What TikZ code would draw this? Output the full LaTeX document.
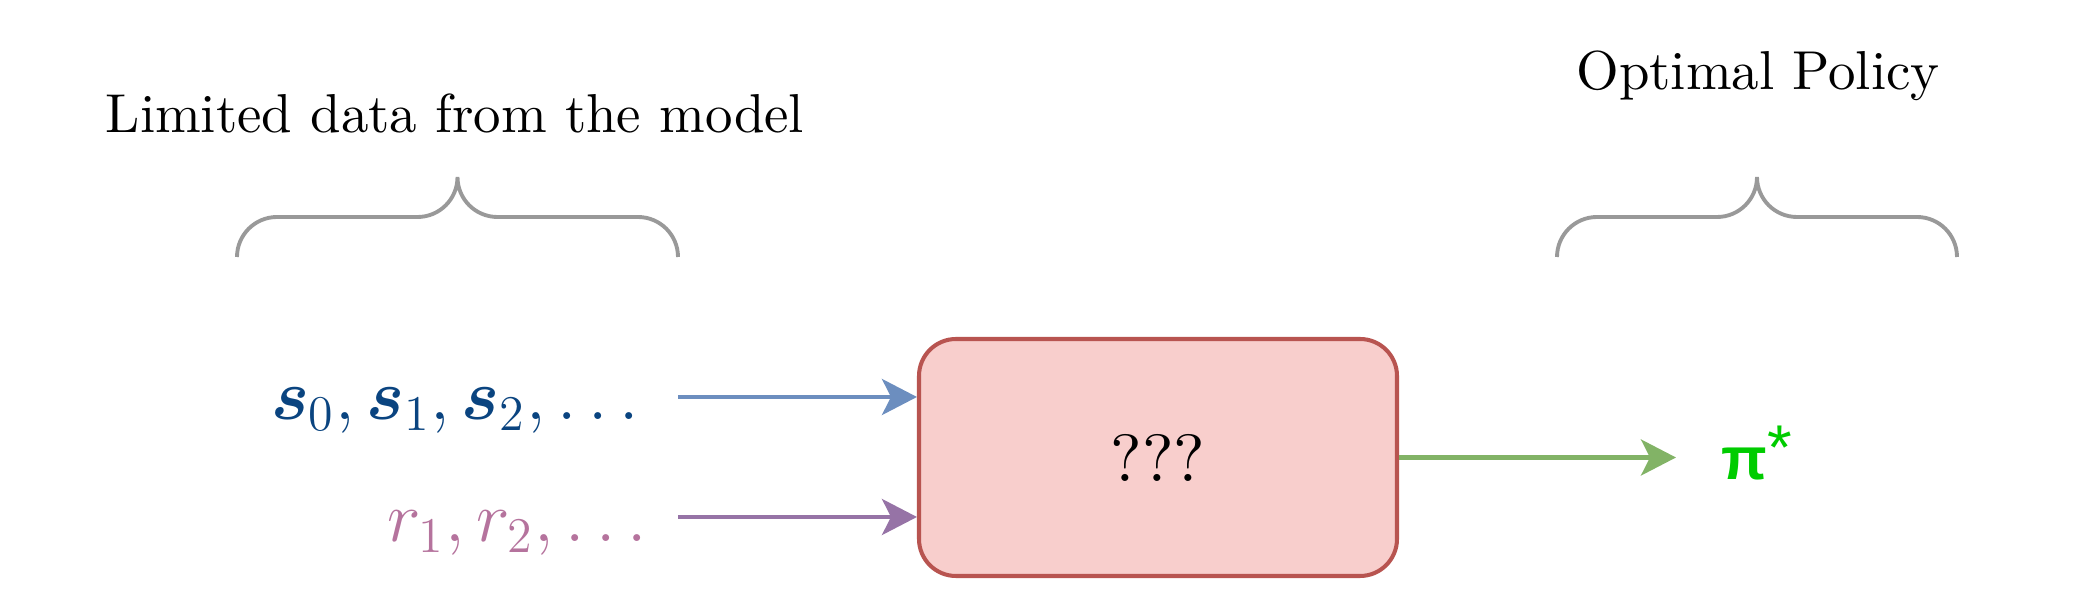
\RequirePackage{fix-cm}
\documentclass[tikz,border=0pt]{standalone}
\usepackage{amsmath}
\usepackage{amssymb}
\usepackage{fontspec}
\setmainfont{lmroman10-regular}[Extension=.otf]
\newfontfamily\pisans{Liberation Sans}
\usepackage{xcolor}
\usepackage{tikz}
\usetikzlibrary{arrows.meta}

\definecolor{bracegray}{HTML}{999999}
\definecolor{boxfill}{HTML}{F8CECC}
\definecolor{boxdraw}{HTML}{B85450}
\definecolor{sline}{HTML}{6C8EBF}
\definecolor{rline}{HTML}{9673A6}
\definecolor{piline}{HTML}{82B366}
\definecolor{stext}{HTML}{0A4480}
\definecolor{rtext}{HTML}{B5739D}
\definecolor{pitext}{HTML}{00CC00}

\tikzset{
	flow/.style={line width=1.15pt, -{Stealth[length=0.35cm,width=0.36cm,inset=0.09cm]}},
	lbl/.style={inner sep=0pt, font=\fontsize{15.6}{19}\selectfont},
	seq/.style={inner sep=0pt, font=\fontsize{20.3}{24}\selectfont}
}

\begin{document}
\begin{tikzpicture}
			\useasboundingbox (0,0) rectangle (20.8,6.12);
			% Khung giữa
			\node [draw=boxdraw, fill=boxfill, line width=1.15pt, rounded corners=0.37cm,
			minimum width=4.78cm, minimum height=2.37cm, font=\fontsize{19}{24}\selectfont] (box) at (11.58,1.545) {???};
			% Dữ liệu vào
			\node [seq, text=stext, anchor=base east] (s) at (6.40,1.92) {$\boldsymbol{s}_0,\boldsymbol{s}_1,\boldsymbol{s}_2,\ldots$};
			\node [seq, text=rtext, anchor=base east] (r) at (6.48,0.70) {$r_1,r_2,\ldots$};
			\coordinate (s-in) at (6.78,2.15);
			\coordinate (r-in) at (6.78,0.95);
			\draw [flow, sline] (s-in) -- (s-in -| box.west);
			\draw [flow, rline] (r-in) -- (r-in -| box.west);
			% Đầu ra
			\node [inner sep=0pt, text=pitext, anchor=base west, font=\fontsize{17}{20}\selectfont] (pi) at (17.21,1.32) {\pisans\bfseries π\raisebox{3pt}{\fontsize{18}{18}\selectfont\mdseries *}};
			\draw [flow, piline, shorten >=0.45cm] (box.east) -- (box.east -| pi.west);
			% Ngoặc
			\foreach \a/\b in {2.37/6.78, 15.57/19.57}
			\draw [bracegray, line width=1.1pt] (\a,3.55) arc[start angle=180, end angle=90, radius=0.4]
			-- ({(\a+\b)/2-0.4},3.95) arc[start angle=-90, end angle=0, radius=0.4]
			arc[start angle=180, end angle=270, radius=0.4] -- (\b-0.4,3.95)
			arc[start angle=90, end angle=0, radius=0.4];
			\node [lbl, anchor=base] (data) at (4.55,4.79) {Limited data from the model};
			\node [lbl, anchor=base] (policy) at (17.58,5.22) {Optimal Policy};
		\end{tikzpicture}
\end{document}
